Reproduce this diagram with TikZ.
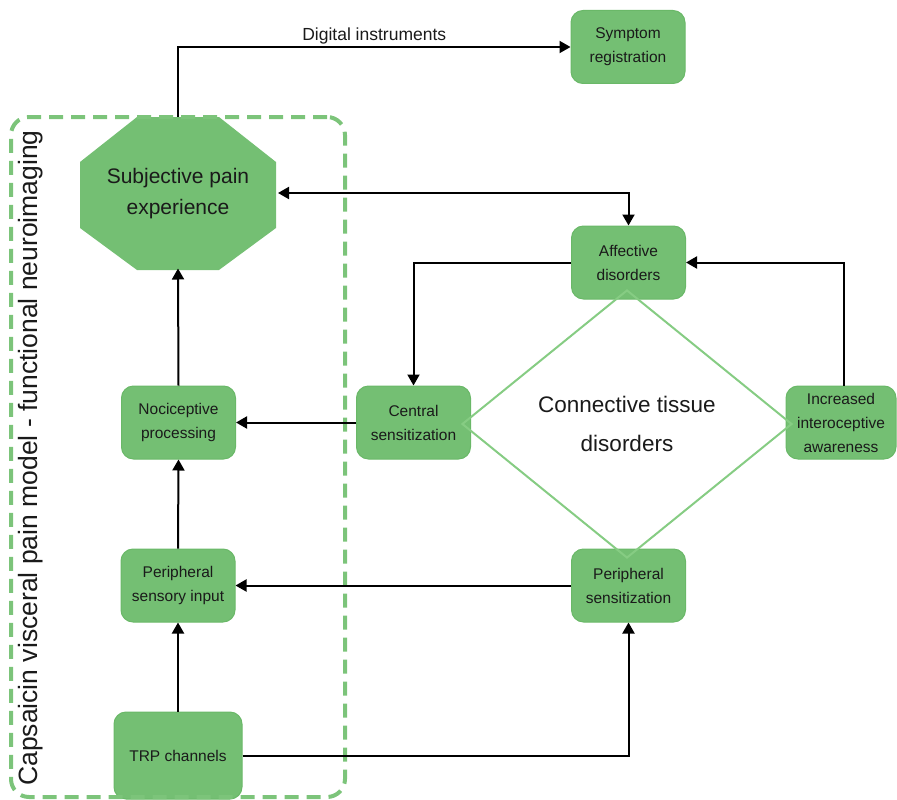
\documentclass[tikz,border=0pt]{standalone}
\usepackage{fontspec}
\setmainfont{Liberation Sans}
\usetikzlibrary{arrows.meta, positioning, shapes.geometric, calc, backgrounds}
\definecolor{cgreen}{HTML}{74BF73}
\definecolor{cgreenline}{HTML}{6AB868}
\definecolor{cdiamond}{HTML}{86CC83}
\definecolor{cdash}{HTML}{7CC47A}
\definecolor{ctext}{HTML}{1A1A1A}
\tikzset{
  every picture/.style={x=1pt, y=-1pt, line width=2pt},
  box/.style={draw=cgreenline, line width=1pt, fill=cgreen, rounded corners=12pt, align=center,
    text=ctext, minimum width=114pt, minimum height=73pt, inner sep=2pt,
    font=\fontsize{15.5}{24}\selectfont},
  arrow/.style={-{Triangle[length=11pt, width=12pt]}, draw=black, line width=2pt},
  biarrow/.style={{Triangle[length=11pt, width=12pt]}-{Triangle[length=11pt, width=12pt]}, draw=black, line width=2pt},
  group/.style={draw=cdash, line width=4pt, dash pattern=on 14pt off 8pt, rounded corners=18pt},
}
\begin{document}
\begin{tikzpicture}
  \useasboundingbox (0,0) rectangle (897,800);
  % left column
  \node[minimum width=198pt, minimum height=153pt, align=center, text=ctext,
    font=\fontsize{21}{31}\selectfont] (subj) at (178,194) {Subjective pain\\experience};
  \begin{scope}[on background layer]
    \fill[cgreen] ($(subj.center)+(-41,-77)$) -- ++(82,0) -- ++(57,45) -- ++(0,66)
      -- ++(-57,42) -- ++(-82,0) -- ++(-57,-42) -- ++(0,-66) -- cycle;
  \end{scope}
  \node[box] (noc) at (178.5,422.5) {Nociceptive\\processing};
  \node[box] (psi) at (178,585.5) {Peripheral\\sensory input};
  \node[box, minimum width=128pt, minimum height=87pt] (trp) at (178,755.5) {TRP channels};
  % right part
  \node[box] (symp) at (628,47) {Symptom\\registration};
  \node[box] (aff) at (628.5,262.5) {Affective\\disorders};
  \node[box] (cen) at (413.5,422.5) {Central\\sensitization};
  \node[box, minimum width=110pt] (inc) at (841,422.5) {Increased\\interoceptive\\awareness};
  \node[box] (ps) at (628.5,585.5) {Peripheral\\sensitization};
  \node[diamond, draw=cdiamond, line width=2pt, inner sep=0pt, minimum width=330pt, minimum height=268pt,
    align=center, text=ctext, font=\fontsize{22.5}{39}\selectfont] (ctd) at (627,424) {Connective tissue\\disorders};
  % model frame
  \node[group, minimum width=334pt, minimum height=680pt] (model) at (178,457) {};
  \node[rotate=90, text=ctext, font=\fontsize{26.5}{30}\selectfont] (modeltitle) at (31,458)
    {Capsaicin visceral pain model - functional neuroimaging};
  % connectors
  \draw[arrow] (subj.north) |- node[pos=0.75, above=-1pt, text=ctext, font=\fontsize{17.5}{20}\selectfont] {Digital instruments} (symp.west);
  \draw[biarrow] ($(subj.east)+(0,-1)$) -| (aff.north);
  \draw[arrow] (aff.west) -| (cen.north);
  \draw[arrow] ($(inc.north)+(3,0)$) |- (aff.east);
  \draw[arrow] (cen.west) -- (noc.east);
  \draw[arrow] (noc.north) -- ($(subj.south)+(0,-3)$);
  \draw[arrow] (psi.north) -- (noc.south);
  \draw[arrow] (ps.west) -- (psi.east);
  \draw[arrow] (trp.north) -- (psi.south);
  \draw[arrow] (trp.east) -| (ps.south);
\end{tikzpicture}
\end{document}
